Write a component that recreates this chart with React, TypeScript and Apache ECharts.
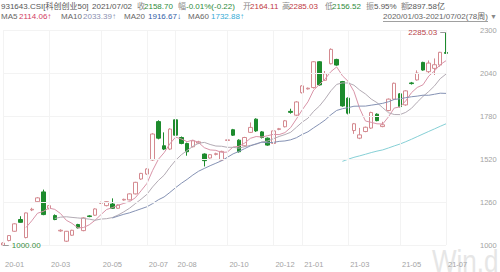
import React, { useEffect, useRef } from 'react';
import * as echarts from 'echarts';

// Weekly bars of 931643.CSI, week-ending dates
const weekDates = [
  '2020-01-03', '2020-01-10', '2020-01-17', '2020-01-23', '2020-02-07', '2020-02-14', '2020-02-21', '2020-02-28',
  '2020-03-06', '2020-03-13', '2020-03-20', '2020-03-27', '2020-04-03', '2020-04-10', '2020-04-17', '2020-04-24',
  '2020-04-30', '2020-05-08', '2020-05-15', '2020-05-22', '2020-05-29', '2020-06-05', '2020-06-12', '2020-06-19',
  '2020-06-24', '2020-07-03', '2020-07-10', '2020-07-17', '2020-07-24', '2020-07-31', '2020-08-07', '2020-08-14',
  '2020-08-21', '2020-08-28', '2020-09-04', '2020-09-11', '2020-09-18', '2020-09-25', '2020-09-30', '2020-10-09',
  '2020-10-16', '2020-10-23', '2020-10-30', '2020-11-06', '2020-11-13', '2020-11-20', '2020-11-27', '2020-12-04',
  '2020-12-11', '2020-12-18', '2020-12-25', '2020-12-31', '2021-01-08', '2021-01-15', '2021-01-22', '2021-01-29',
  '2021-02-05', '2021-02-10', '2021-02-19', '2021-02-26', '2021-03-05', '2021-03-12', '2021-03-19', '2021-03-26',
  '2021-04-02', '2021-04-09', '2021-04-16', '2021-04-23', '2021-04-30', '2021-05-07', '2021-05-14', '2021-05-21',
  '2021-05-28', '2021-06-04', '2021-06-11', '2021-06-18', '2021-06-25', '2021-07-02',
];

// [open, close, low, high]
const weeklyCandles = [
  [1000, 1012, 1000, 1016], [1027, 1057, 1022, 1060], [1083, 1128, 1080, 1132], [1154, 1137, 1135, 1174],
  [1045, 1194, 1040, 1196], [1212, 1216, 1205, 1225], [1262, 1285, 1258, 1290], [1321, 1184, 1180, 1335],
  [1222, 1238, 1215, 1242], [1178, 1154, 1150, 1185], [1085, 1089, 1080, 1095], [1023, 1083, 1018, 1085],
  [1059, 1089, 1055, 1092], [1124, 1104, 1100, 1128], [1087, 1164, 1083, 1168], [1176, 1172, 1168, 1180],
  [1180, 1218, 1176, 1222], [1252, 1256, 1248, 1262], [1238, 1262, 1234, 1266], [1248, 1222, 1219, 1282],
  [1222, 1242, 1218, 1246], [1272, 1276, 1268, 1280], [1273, 1309, 1270, 1312], [1309, 1379, 1306, 1382],
  [1399, 1433, 1394, 1436], [1429, 1460, 1424, 1464], [1514, 1671, 1509, 1676], [1746, 1646, 1639, 1754],
  [1600, 1580, 1574, 1681], [1580, 1701, 1574, 1706], [1757, 1664, 1659, 1764], [1650, 1614, 1609, 1656],
  [1614, 1564, 1540, 1619], [1594, 1630, 1590, 1634], [1616, 1624, 1610, 1630], [1550, 1510, 1475, 1554],
  [1526, 1546, 1522, 1550], [1548, 1552, 1542, 1558], [1514, 1566, 1510, 1570], [1632, 1636, 1630, 1638],
  [1697, 1664, 1659, 1702], [1634, 1564, 1559, 1639], [1600, 1650, 1594, 1654], [1681, 1711, 1677, 1741],
  [1761, 1690, 1684, 1766], [1684, 1650, 1644, 1689], [1646, 1604, 1600, 1650], [1614, 1690, 1609, 1694],
  [1699, 1703, 1694, 1708], [1715, 1751, 1711, 1756], [1808, 1802, 1794, 1824], [1785, 1865, 1780, 1870],
  [1921, 1962, 1916, 1966], [1944, 1948, 1940, 1952], [1952, 2108, 1946, 2112], [2108, 1968, 1964, 2112],
  [1996, 2036, 1992, 2052], [2096, 2183, 2092, 2189], [2122, 2088, 2084, 2126], [1988, 1841, 1836, 1992],
  [1888, 1797, 1790, 1892], [1692, 1733, 1672, 1738], [1646, 1666, 1640, 1708], [1686, 1712, 1682, 1716],
  [1707, 1801, 1702, 1806], [1791, 1752, 1748, 1796], [1716, 1727, 1712, 1745], [1813, 1882, 1808, 1886],
  [1882, 1978, 1878, 1982], [1914, 1837, 1832, 1918], [1847, 1932, 1842, 1936], [1980, 1976, 1970, 1986],
  [1998, 2040, 1994, 2056], [2104, 2058, 2054, 2108], [2048, 2100, 2040, 2116], [2068, 2090, 2028, 2128],
  [2088, 2165, 2078, 2168], [2164.11, 2158.70, 2156.52, 2285.03],
];

const monthLabels = ['20-01', '20-03', '20-05', '20-07', '20-08', '20-10', '20-12', '21-01', '21-03', '21-05', '21-07'];

const maPeriods = [5, 10, 20, 60];
const maColors = ['#d994a8', '#b3abb4', '#8592b4', '#86d0d6'];
const maHeaderValues = ['2114.06', '2033.39', '1916.67', '1732.88'];
const maHeaderArrows = ['↑', '↑', '↓', '↑'];
const maHeaderColors = ['#d23d63', '#8a8fb0', '#2f5da6', '#36acd6'];

const quoteCode = '931643.CSI[科创创业50]';
const quoteDate = '2021/07/02';
const quoteFields = ['收', '幅', '开', '高', '低', '振', '额'];
const quoteValues = ['2158.70', '-0.01%(-0.22)', '2164.11', '2285.03', '2156.52', '5.95%', '2897.58亿'];
const quoteColors = ['#2e8b3c', '#2e8b3c', '#c0393f', '#c0393f', '#2e8b3c', '#555555', '#555555'];
const rangeText = '2020/01/03-2021/07/02(78周)';

const highMark = 2285.03;
const lowMark = 1000.0;

const FONT = "'Liberation Sans', 'Noto Sans CJK SC', sans-serif";

function movingAverage(period: number) {
  const out: (number | string)[] = [];
  for (let i = 0; i < weeklyCandles.length; i++) {
    if (i < period - 1) {
      out.push('-');
      continue;
    }
    let sum = 0;
    for (let j = i - period + 1; j <= i; j++) sum += weeklyCandles[j][1];
    out.push(+(sum / period).toFixed(2));
  }
  return out;
}

function isMonthStart(index: number) {
  const key = weekDates[index].slice(2, 7);
  if (!monthLabels.includes(key)) return false;
  return index === 0 || weekDates[index - 1].slice(2, 7) !== key;
}

function headerGraphics() {
  const items: any[] = [];
  const text = (x: number, y: number, t: string, fill: string, size = 8) =>
    items.push({
      type: 'text',
      x,
      y,
      silent: true,
      style: { text: t, fill, fontSize: size, fontFamily: FONT, verticalAlign: 'middle', align: 'left' },
    });

  // quote line
  text(1, 6.5, quoteCode, '#555555');
  text(92, 6.5, quoteDate, '#555555');
  const fieldX = [137, 178, 243, 282, 325, 366, 401];
  const valueX = [144, 186, 250, 289, 332, 374, 408];
  quoteFields.forEach((f, i) => {
    text(fieldX[i], 6.5, f, '#888888');
    text(valueX[i], 6.5, quoteValues[i], quoteColors[i]);
  });

  // moving-average line
  const maLabelX = [1, 61, 124, 188];
  const maValueX = [19, 83, 148, 211];
  maPeriods.forEach((p, i) => {
    text(maLabelX[i], 16.5, 'MA' + p, '#666666');
    text(maValueX[i], 16.5, maHeaderValues[i] + maHeaderArrows[i], maHeaderColors[i]);
  });

  // date range selector
  text(383, 16.5, rangeText, '#666666');
  items.push({
    type: 'line',
    silent: true,
    shape: { x1: 383, y1: 21.5, x2: 488, y2: 21.5 },
    style: { stroke: '#888888', lineWidth: 0.8 },
  });
  text(490, 16.5, '▼', '#888888', 7);

  // watermark
  items.push({
    type: 'text',
    x: 432,
    y: 276.5,
    scaleX: 0.84,
    silent: true,
    z: 0,
    style: {
      text: 'Win.d',
      fill: '#e6e6e6',
      fontSize: 31,
      fontFamily: FONT,
      verticalAlign: 'bottom',
      align: 'left',
    },
  });
  return items;
}

export default function App() {
  const ref = useRef<HTMLDivElement>(null);

  useEffect(() => {
    if (!ref.current) return;
    const chart = echarts.init(ref.current, null, { renderer: 'svg' });

    const maSeries = maPeriods.map((p, i) => ({
      name: 'MA' + p,
      type: 'line',
      data: movingAverage(p),
      showSymbol: false,
      symbol: 'none',
      smooth: false,
      silent: true,
      lineStyle: { width: 1, color: maColors[i] },
      z: 3,
    }));

    chart.setOption({
      animation: false,
      backgroundColor: '#ffffff',
      graphic: headerGraphics(),
      grid: { left: 3, right: 54, top: 30, bottom: 27 },
      xAxis: {
        type: 'category',
        data: weekDates,
        boundaryGap: false,
        z: 5,
        axisLine: { show: false },
        axisTick: { show: false, interval: (i: number) => isMonthStart(i) },
        axisLabel: {
          interval: (i: number) => isMonthStart(i),
          formatter: (v: string) => v.slice(2, 7),
          align: 'left',
          padding: [0, 0, 0, 2],
          color: '#a3a3a3',
          fontSize: 7.5,
          fontFamily: FONT,
          margin: 16,
        },
        splitLine: {
          show: true,
          interval: (i: number) => isMonthStart(i),
          lineStyle: { color: '#f3f3f3', width: 1 },
        },
      },
      yAxis: {
        type: 'value',
        position: 'right',
        min: 1000,
        max: 2300,
        interval: 260,
        z: 5,
        axisLine: { show: false },
        axisTick: { show: false },
        axisLabel: {
          color: '#a3a3a3',
          fontSize: 7.5,
          fontFamily: FONT,
          margin: 34,
          align: 'left',
          formatter: (v: number) => String(v),
        },
        splitLine: { lineStyle: { color: '#f3f3f3', width: 1 } },
      },
      series: [
        {
          name: '931643.CSI',
          type: 'candlestick',
          data: weeklyCandles,
          barWidth: 4,
          clip: false,
          z: 2,
          itemStyle: {
            color: '#ffffff',
            color0: '#1d8b2d',
            borderColor: '#d48a90',
            borderColor0: '#1d8b2d',
            borderWidth: 1,
          },
          markPoint: {
            symbol: 'circle',
            symbolSize: 0,
            silent: true,
            data: [
              {
                coord: [weekDates.length - 2, highMark],
                label: {
                  show: true,
                  position: 'left',
                  distance: 3,
                  formatter: highMark.toFixed(2),
                  color: '#b8434a',
                  fontSize: 8,
                  fontFamily: FONT,
                },
              },
              {
                coord: [1, lowMark],
                label: {
                  show: true,
                  position: 'right',
                  distance: 3,
                  formatter: lowMark.toFixed(2),
                  color: '#3a8f45',
                  fontSize: 8,
                  fontFamily: FONT,
                },
              },
            ],
          },
          markLine: {
            symbol: ['none', 'none'],
            silent: true,
            label: { show: false },
            lineStyle: { color: '#9a9a9a', type: 'solid', width: 1 },
            data: [
              [{ coord: [weekDates.length - 2, highMark] }, { coord: [weekDates.length - 1, highMark] }],
              [{ coord: [0, lowMark] }, { coord: [1, lowMark] }],
            ],
          },
        },
        ...maSeries,
      ],
    });

    return () => chart.dispose();
  }, []);

  return (
    <div
      ref={ref}
      style={{ position: 'fixed', left: 0, top: 0, width: 500, height: 272, background: '#ffffff' }}
    />
  );
}
